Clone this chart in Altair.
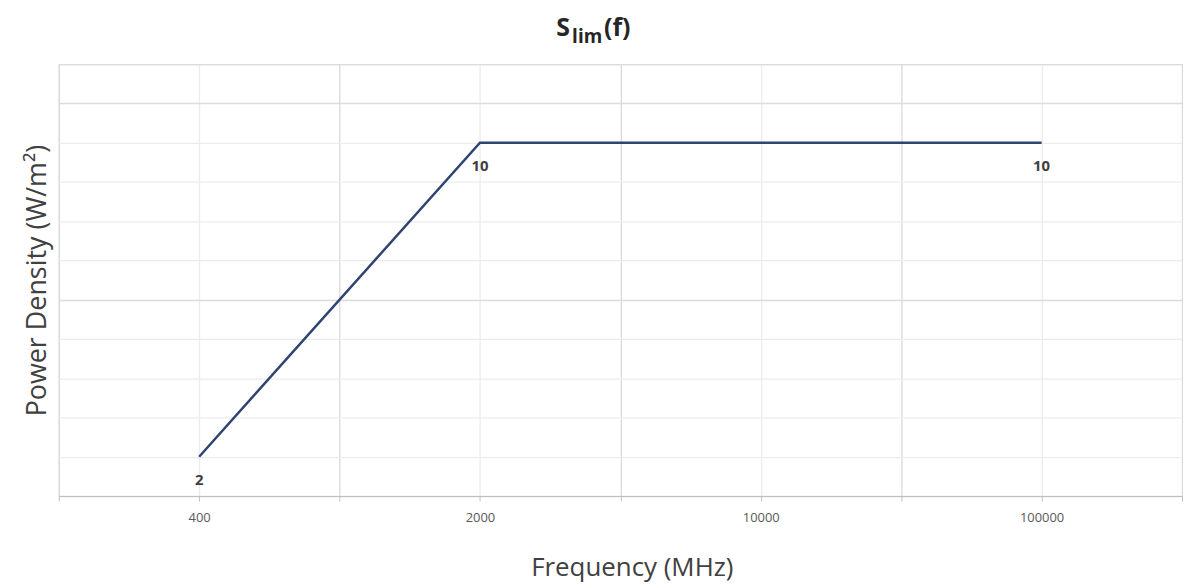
import altair as alt
import pandas as pd

# ---- data ----
tick_labels = ["400", "2000", "10000", "100000"]      # frequency categories (MHz)
freq_mhz = ["400", "2000", "100000"]                  # frequencies of the plotted points
power_density = [2, 10, 10]                            # W/m^2
point_labels = ["2", "10", "10"]

df = pd.DataFrame({
    "freq": freq_mhz,
    "pos": [tick_labels.index(f) for f in freq_mhz],
    "power": power_density,
    "label": point_labels,
})

FONT = "Open Sans"
x_vals = [i / 2 for i in range(-1, 2 * len(tick_labels))]   # grid positions (cats + boundaries)
y_vals = list(range(1, 13))

x_enc = alt.X(
    "pos:Q",
    scale=alt.Scale(domain=[-0.5, len(tick_labels) - 0.5], nice=False, zero=False),
    axis=alt.Axis(
        values=x_vals, tickCount=50,
        labelExpr=f"datum.value % 1 === 0 ? {tick_labels}[datum.value] : ''",
        title="Frequency (MHz)",
        titleFont=FONT, titleFontSize=26, titleFontWeight="normal", titleColor="#404040",
        titleX=576, titleY=80, titleBaseline="alphabetic", titleAlign="center",
        labelFont=FONT, labelFontSize=13, labelColor="#595959", labelPadding=11,
        labelOverlap=False,
        tickSize=5, tickColor="#bfbfbf", domainColor="#bfbfbf", domainWidth=1.2,
        gridColor={"condition": {"test": "datum.value % 1 !== 0", "value": "#d9d9d9"},
                   "value": "#ececec"},
        gridWidth=1.3,
    ),
)
y_enc = alt.Y(
    "power:Q",
    scale=alt.Scale(domain=[1, 12], nice=False, zero=False),
    axis=alt.Axis(
        values=y_vals, tickCount=50, labelExpr="''", labelOverlap=False, ticks=False, domain=False,
        title="Power Density (W/m²)",
        titleFont=FONT, titleFontSize=27, titleFontWeight="normal", titleColor="#404040",
        titleX=-21, titleY=217, titleAngle=270, titleBaseline="middle", titleAlign="center",
        gridColor={"condition": {"test": "(datum.value - 1) % 5 === 0 || datum.value === 12",
                                 "value": "#dcdcdc"},
                   "value": "#ececec"},
        gridWidth=1.3,
    ),
)

base = alt.Chart(df)
line = base.mark_line(color="#2F4571", strokeWidth=2.5).encode(x=x_enc, y=y_enc)
labels = base.mark_text(font=FONT, fontSize=15, fontWeight="bold", color="#404040",
                        dy=23, baseline="middle").encode(x="pos:Q", y="power:Q", text="label:N")

def title_piece(txt, x, y, size):
    return alt.Chart(pd.DataFrame({"t": [txt]})).mark_text(
        font=FONT, fontSize=size, fontWeight="bold", color="#262626",
        align="left", baseline="alphabetic",
    ).encode(text="t:N", x=alt.value(x), y=alt.value(y))

t1 = title_piece("S", 500, -28, 25)
t2 = title_piece("lim", 516, -21, 19)
t3 = title_piece("(f)", 548, -28, 25)

chart = alt.layer(line, labels, t1, t2, t3).properties(
    width=1129, height=434,
    padding={"left": 51, "top": 55, "right": 1, "bottom": 92},
    autosize=alt.AutoSizeParams(type="none"),
).configure_view(stroke=None).configure(background="white")

chart.save("out.html", embed_options={"renderer": "svg", "actions": False})
